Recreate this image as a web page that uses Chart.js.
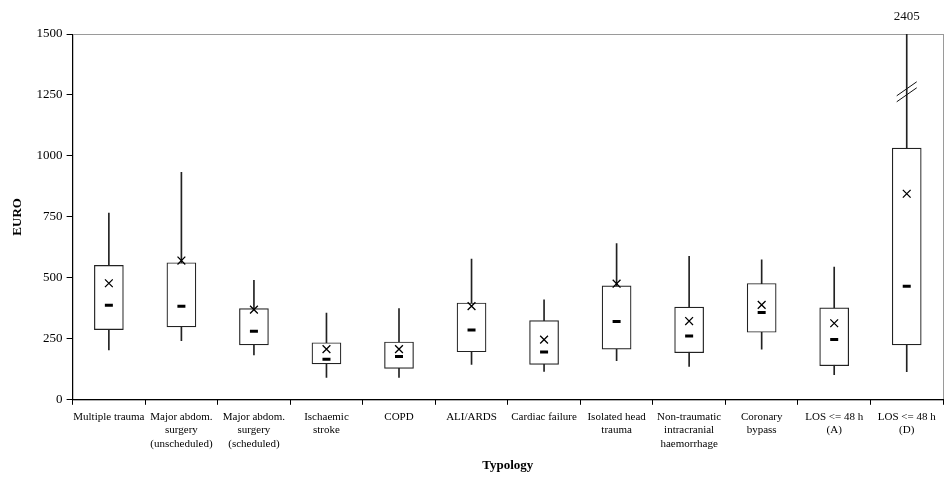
<!DOCTYPE html>
<html>
<head>
<meta charset="utf-8">
<script src="https://cdn.jsdelivr.net/npm/chart.js@4/dist/chart.umd.min.js"></script>
<style>
  html, body { margin: 0; padding: 0; background: #fff; }
  #wrap { width: 952px; height: 477px; }
</style>
</head>
<body>
<div id="wrap"><canvas id="chart-box"></canvas></div>
<script>
const categories = [
  'Multiple trauma',
  ['Major abdom.', 'surgery', '(unscheduled)'],
  ['Major abdom.', 'surgery', '(scheduled)'],
  ['Ischaemic', 'stroke'],
  'COPD',
  'ALI/ARDS',
  'Cardiac failure',
  ['Isolated head', 'trauma'],
  ['Non-traumatic', 'intracranial', 'haemorrhage'],
  ['Coronary', 'bypass'],
  ['LOS <= 48 h', '(A)'],
  ['LOS <= 48 h', '(D)']
];
const whiskerLow  = [205, 242, 184,  92,  92, 145, 116, 160, 137, 208, 103,  115];
const q1          = [288, 299, 225, 147, 129, 197, 145, 208, 193, 277, 140,  225];
const median      = [388, 384, 281, 166, 178, 286, 196, 321, 262, 358, 247,  466];
const q3          = [551, 562, 374, 234, 237, 397, 325, 467, 380, 477, 377, 1032];
const whiskerHigh = [766, 933, 490, 356, 374, 577, 410, 641, 588, 574, 544, 2405];
const mean        = [478, 571, 370, 208, 208, 384, 247, 476, 323, 389, 314,  845];
const yTicks = [0, 250, 500, 750, 1000, 1250, 1500];

const SERIF = '"Liberation Serif", "Times New Roman", serif';

// gray frame on top / right, axis break and off-scale label for last whisker
const extras = {
  id: 'extras',
  beforeDraw(chart) {
    const { ctx, chartArea: a } = chart;
    ctx.save();
    ctx.strokeStyle = '#9a9a9a';
    ctx.lineWidth = 1;
    ctx.strokeRect(a.left + 0.5, a.top + 0.5, a.right - a.left, a.bottom - a.top);
    ctx.restore();
  },
  afterDatasetsDraw(chart) {
    const { ctx, scales: { x, y } } = chart;
    const last = categories.length - 1;
    const cx = x.getPixelForValue(last);
    const cy = y.getPixelForValue(1263);
    ctx.save();
    ctx.strokeStyle = '#111';
    ctx.lineWidth = 1;
    [-3, 3].forEach(function (d) {
      ctx.beginPath();
      ctx.moveTo(cx - 10, cy + 7 + d);
      ctx.lineTo(cx + 10, cy - 7 + d);
      ctx.stroke();
    });
    ctx.fillStyle = '#111';
    ctx.font = '13px ' + SERIF;
    ctx.textAlign = 'center';
    ctx.textBaseline = 'bottom';
    ctx.fillText(String(whiskerHigh[last]), cx, chart.chartArea.top - 11);
    ctx.restore();
  }
};

new Chart(document.getElementById('chart-box'), {
  type: 'bar',
  data: {
    labels: categories,
    datasets: [
      {
        label: 'Whisker',
        data: whiskerLow.map((v, i) => [v, whiskerHigh[i]]),
        backgroundColor: '#222',
        borderWidth: 0,
        barThickness: 1,
        grouped: false,
        order: 3
      },
      {
        label: 'IQR',
        data: q1.map((v, i) => [v, q3[i]]),
        backgroundColor: '#fff',
        borderColor: '#222',
        borderWidth: 1.2,
        borderSkipped: false,
        barThickness: 29,
        grouped: false,
        order: 2
      },
      {
        type: 'line',
        label: 'Median',
        data: median,
        showLine: false,
        pointStyle: 'line',
        pointRadius: 4,
        pointBorderWidth: 3,
        pointBorderColor: '#000',
        order: 1
      },
      {
        type: 'line',
        label: 'Mean',
        data: mean,
        showLine: false,
        pointStyle: 'crossRot',
        pointRadius: 5.5,
        pointBorderWidth: 1.3,
        pointBorderColor: '#000',
        order: 0
      }
    ]
  },
  options: {
    responsive: true,
    maintainAspectRatio: false,
    animation: false,
    layout: { padding: { top: 34, right: 9, left: 10, bottom: 4 } },
    plugins: {
      legend: { display: false },
      tooltip: { enabled: false }
    },
    scales: {
      x: {
        offset: true,
        border: { color: '#000', width: 1 },
        grid: { display: true, offset: true, drawOnChartArea: false, color: '#000', tickLength: 5 },
        ticks: {
          color: '#000',
          font: { family: SERIF, size: 11, lineHeight: 1.2 },
          maxRotation: 0,
          autoSkip: false,
          padding: 6
        },
        title: {
          display: true,
          text: 'Typology',
          color: '#000',
          font: { family: SERIF, size: 13, weight: 'bold' },
          padding: { top: 1, bottom: 0 }
        }
      },
      y: {
        min: 0,
        max: 1500,
        afterBuildTicks(scale) { scale.ticks = yTicks.map(v => ({ value: v })); },
        border: { color: '#000', width: 1 },
        grid: { display: true, drawOnChartArea: false, color: '#000', tickLength: 6 },
        ticks: {
          color: '#000',
          font: { family: SERIF, size: 13 },
          padding: 4,
          callback: v => String(v)
        },
        title: {
          display: true,
          text: 'EURO',
          color: '#000',
          font: { family: SERIF, size: 13, weight: 'bold' },
          padding: { top: 0, bottom: 7 }
        }
      }
    }
  },
  plugins: [extras]
});
</script>
</body>
</html>
